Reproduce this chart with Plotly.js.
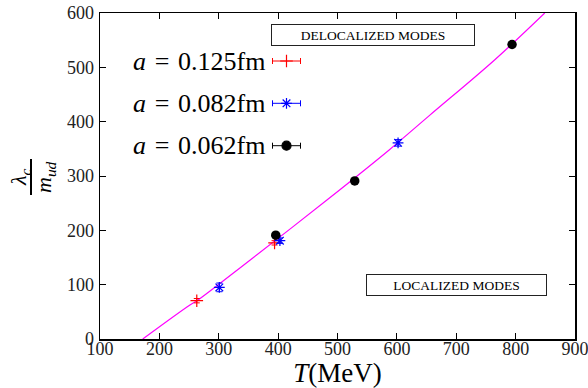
<!DOCTYPE html>
<html>
<head>
<meta charset="utf-8">
<script src="https://cdn.plot.ly/plotly-3.0.1.min.js"></script>
<style>html,body{margin:0;padding:0;background:#fff;}#chart{width:588px;height:388px;}</style>
</head>
<body>
<div id="chart"></div>
<script>
// ---- data ----
const redT = [263, 394];
const redY = [70.5, 177];
const redErr = [4, 4];

const blueT = [301, 403, 602];
const blueY = [95, 181, 361];
const blueErr = [8, 5, 6];

const blackT = [396, 529, 794];
const blackY = [191, 291, 542];
const blackErr = [3, 3, 3];

const fitT = [172, 251.5, 262.8, 352.5, 487, 587, 655.6, 765, 849];
const fitY = [0, 62.6, 70, 145, 260, 348, 412, 514, 600];

const seriesLabels = ['<i>a</i>\u2004=\u20040.125fm', '<i>a</i>\u2004=\u20040.082fm', '<i>a</i>\u2004=\u20040.062fm'];
const xTicks = [100, 200, 300, 400, 500, 600, 700, 800, 900];
const yTicks = [0, 100, 200, 300, 400, 500, 600];

const serif = 'Liberation Serif';

// plot-area geometry helpers (pixels -> paper)
const L = 100, R = 575, T = 13, B = 339;
const px = x => (x - L) / (R - L);
const py = y => (B - y) / (B - T);

const traces = [
  {x: fitT, y: fitY, mode: 'lines', line: {color: '#ff00ff', width: 1.2, shape: 'spline'}, hoverinfo: 'skip'},
  {x: redT, y: redY, mode: 'markers', marker: {symbol: 'cross-thin-open', size: 9, color: 'red', line: {color: 'red', width: 1.2}},
   error_y: {type: 'data', array: redErr, color: 'red', thickness: 1, width: 3}},
  {x: blueT, y: blueY, mode: 'markers', marker: {symbol: 'asterisk-open', size: 9, color: 'blue', line: {color: 'blue', width: 1.2}},
   error_y: {type: 'data', array: blueErr, color: 'blue', thickness: 1, width: 3}},
  {x: blackT, y: blackY, mode: 'markers', marker: {symbol: 'circle', size: 9.5, color: 'black'},
   error_y: {type: 'data', array: blackErr, color: 'black', thickness: 1, width: 3}},
];

// legend samples drawn on a hidden overlay axis spanning the plot area (0..1)
const legColors = ['red', 'blue', 'black'];
const legSymbols = ['cross-thin-open', 'asterisk-open', 'circle'];
const legPy = [61, 103.3, 145.7];
legColors.forEach((c, i) => {
  traces.push({
    x: [px(286.5)], y: [py(legPy[i])], xaxis: 'x2', yaxis: 'y2', mode: 'markers',
    marker: {symbol: legSymbols[i], size: 9, color: c, line: {color: c, width: 1.2}},
    error_x: {type: 'data', array: [14 / (R - L)], color: c, thickness: 1, width: 3},
    hoverinfo: 'skip'
  });
});

const annotations = seriesLabels.map((t, i) => ({
  xref: 'paper', yref: 'paper', x: px(267), y: py(legPy[i]), xanchor: 'right', yanchor: 'middle',
  text: t, showarrow: false, font: {family: serif, size: 26, color: 'black'}
}));

annotations.push(
  {xref: 'paper', yref: 'paper', x: px(373), y: py(35), text: 'DELOCALIZED MODES', showarrow: false,
   font: {family: serif, size: 13.5, color: 'black'}, bordercolor: '#222', borderwidth: 1, bgcolor: 'white',
   width: 200, height: 18, xanchor: 'center', yanchor: 'middle'},
  {xref: 'paper', yref: 'paper', x: px(456.5), y: py(285), text: 'LOCALIZED MODES', showarrow: false,
   font: {family: serif, size: 13.5, color: 'black'}, bordercolor: '#222', borderwidth: 1, bgcolor: 'white',
   width: 177, height: 18, xanchor: 'center', yanchor: 'middle'},
  {xref: 'paper', yref: 'paper', x: px(20), y: py(177), text: '<i>λ<sub>c</sub></i>', showarrow: false, textangle: -90,
   font: {family: serif, size: 22, color: 'black'}, xanchor: 'center', yanchor: 'middle'},
  {xref: 'paper', yref: 'paper', x: px(45), y: py(177), text: '<i>m<sub>ud</sub></i>', showarrow: false, textangle: -90,
   font: {family: serif, size: 22, color: 'black'}, xanchor: 'center', yanchor: 'middle'}
);

const layout = {
  width: 588, height: 388,
  margin: {l: L, r: 588 - R, t: T, b: 388 - B},
  paper_bgcolor: 'white', plot_bgcolor: 'white',
  showlegend: false,
  font: {family: serif, color: 'black'},
  xaxis: {
    range: [100, 900], tickvals: xTicks, ticktext: xTicks.map(String),
    ticks: 'inside', ticklen: 6, tickwidth: 1, tickcolor: 'black',
    showline: true, linecolor: 'black', linewidth: 1.5, mirror: 'allticks',
    showgrid: false, zeroline: false, tickfont: {family: serif, size: 18, color: '#222'},
    ticklabelstandoff: -7, ticklabeloverflow: 'allow',
    title: {text: '<i>T</i>(MeV)', font: {family: serif, size: 27}, standoff: 0}
  },
  yaxis: {
    range: [0, 600], tickvals: yTicks, ticktext: yTicks.map(String),
    ticks: 'inside', ticklen: 6, tickwidth: 1, tickcolor: 'black',
    showline: true, linecolor: 'black', linewidth: 1.5, mirror: 'allticks',
    showgrid: false, zeroline: false, tickfont: {family: serif, size: 18, color: '#222'},
    ticklabelstandoff: 1, ticklabeloverflow: 'allow'
  },
  xaxis2: {overlaying: 'x', range: [0, 1], visible: false, fixedrange: true},
  yaxis2: {overlaying: 'y', range: [0, 1], visible: false, fixedrange: true},
  annotations: annotations,
  shapes: [
    {type: 'line', xref: 'paper', yref: 'paper', x0: px(31), x1: px(31), y0: py(159), y1: py(195),
     line: {color: 'black', width: 2}}
  ]
};

Plotly.newPlot('chart', traces, layout, {displayModeBar: false, staticPlot: true});
</script>
</body>
</html>
